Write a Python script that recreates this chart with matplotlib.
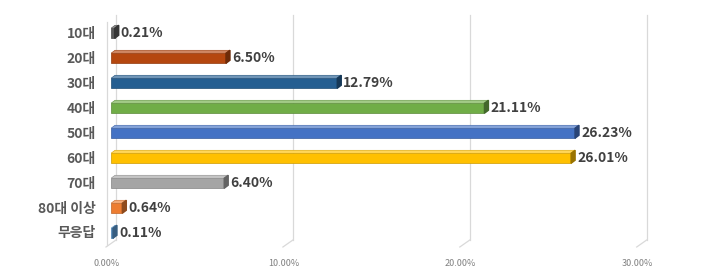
import numpy as np
import matplotlib
matplotlib.use("Agg")
import matplotlib.pyplot as plt
from matplotlib.colors import to_rgb
from matplotlib.transforms import ScaledTranslation

plt.rcParams['font.family'] = ['Noto Sans CJK KR', 'DejaVu Sans']

categories = ['10대', '20대', '30대', '40대', '50대', '60대', '70대', '80대 이상', '무응답']
values = [0.21, 6.50, 12.79, 21.11, 26.23, 26.01, 6.40, 0.64, 0.11]
value_labels = ['0.21%', '6.50%', '12.79%', '21.11%', '26.23%', '26.01%', '6.40%', '0.64%', '0.11%']
colors = ['#595959', '#B5470F', '#255E91', '#70AD47', '#4472C4',
          '#FFC000', '#A5A5A5', '#ED7D31', '#5B9BD5']
xticks = [0, 10, 20, 30]
xtick_labels = ['0.00%', '10.00%', '20.00%', '30.00%']


def shade(c, f):
        r, g, b = to_rgb(c)
        if f > 1:
                return (r + (1 - r) * (f - 1), g + (1 - g) * (f - 1), b + (1 - b) * (f - 1))
        return (r * f, g * f, b * f)


W, H = 710, 280
fig = plt.figure(figsize=(W / 100, H / 100), dpi=100)
ax_l, ax_r, ax_t, ax_b = 111, 641.7, 15, 247
ax = fig.add_axes([ax_l / W, 1 - ax_b / H, (ax_r - ax_l) / W, (ax_b - ax_t) / H])

xmax = 30
ax.set_xlim(0, xmax)
ax.set_ylim(8.6, -0.68)

px_x = xmax / (ax_r - ax_l)          # data units per pixel, x
px_y = (8.6 + 0.68) / (ax_b - ax_t)  # data units per pixel, y

# back wall gridlines (3d look)
gx = ax.get_xaxis_transform()
y_foot = 7 / (ax_b - ax_t)
for t in xticks:
        ax.plot([t + 5 * px_x, t + 5 * px_x], [1, y_foot], color='#d9d9d9', lw=0.9,
                transform=gx, clip_on=False, zorder=0)
        ax.plot([t + 5 * px_x, t - 5 * px_x], [y_foot, 0], color='#d9d9d9', lw=0.9,
                transform=gx, clip_on=False, zorder=0)
ax.plot([-4 * px_x, -4 * px_x], [0.97, 0.01], color='#d9d9d9', lw=0.9,
        transform=gx, clip_on=False, zorder=0)

# bars
h = 10 * px_y
dx = 4 * px_x
dy = 3 * px_y
ypos = np.arange(len(categories))
for i, (v, c) in enumerate(zip(values, colors)):
        yc = ypos[i] + 0.05
        top = yc - h / 2
        ax.barh(yc, v, height=h, color=c, edgecolor=shade(c, 0.8), lw=0.5, zorder=3)
        ax.fill([0, v, v + dx, dx], [top, top, top - dy, top - dy],
                color=shade(c, 1.35), edgecolor=shade(c, 0.85), lw=0.4, zorder=3)
        ax.fill([v, v + dx, v + dx, v], [top, top - dy, top - dy + h, top + h],
                color=shade(c, 0.6), zorder=3)
        ax.text(v + dx + 2 * px_x, yc, value_labels[i], fontsize=10, fontweight='bold',
                color='#404040', va='center', ha='left')

ax.set_yticks(ypos)
ax.set_yticklabels(categories, fontsize=10, fontweight='bold', color='#595959')
ax.tick_params(axis='y', length=0, pad=11)

ax.set_xticks(xticks)
ax.set_xticklabels(xtick_labels, fontsize=6.5, color='#808080')
ax.tick_params(axis='x', length=0, pad=9)
for lab in ax.get_xticklabels():
        lab.set_transform(lab.get_transform() + ScaledTranslation(-3 / 72, 0, fig.dpi_scale_trans))

for s in ax.spines.values():
        s.set_visible(False)

fig.savefig('out.png', dpi=100, facecolor='white')
